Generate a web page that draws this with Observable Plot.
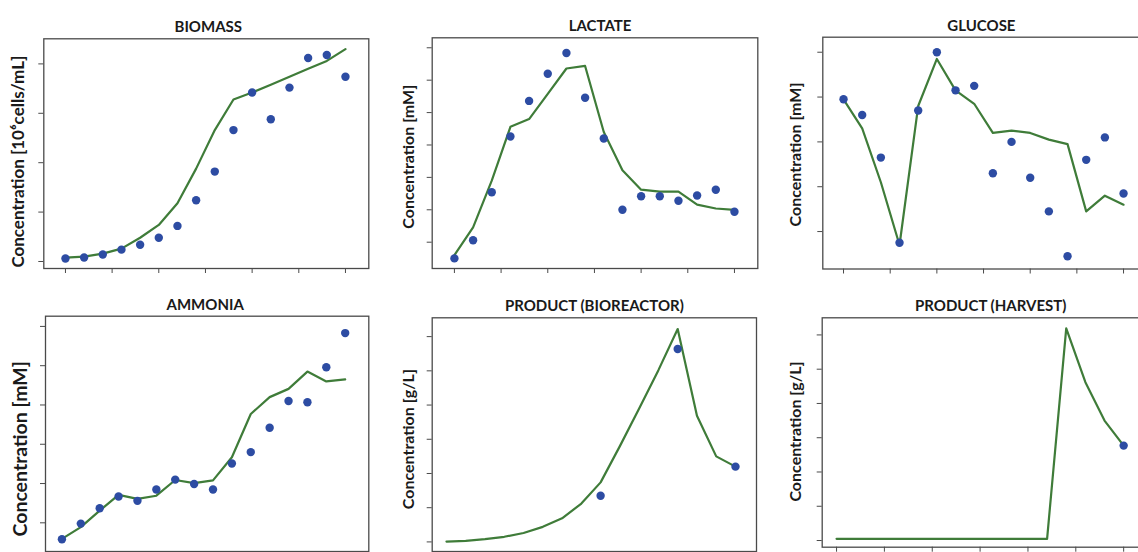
<!DOCTYPE html>
<html>
<head>
<meta charset="utf-8">
<script src="https://cdn.jsdelivr.net/npm/d3@7"></script>
<script src="https://cdn.jsdelivr.net/npm/@observablehq/plot@0.6"></script>
<style>
  body { margin: 0; background: #fff; }
  #fig { position: relative; width: 1138px; height: 552px; overflow: hidden; background: #fff; }
  #fig svg { position: absolute; }
</style>
</head>
<body>
<div id="fig"></div>
<script>
// Culture day of each sample / simulation step
const days = [0, 1, 2, 3, 4, 5, 6, 7, 8, 9, 10, 11, 12, 13, 14, 15];
const dayTicks = [0, 2.5, 5, 7.5, 10, 12.5, 15];

// Biomass [10^6 cells/mL]
const biomassMeasured = [0.3, 0.4, 0.7, 1.2, 1.7, 2.4, 3.6, 6.2, 9.1, 13.3, 17.1, 14.4, 17.6, 20.6, 20.9, 18.7];
const biomassModel    = [0.4, 0.5, 0.8, 1.3, 2.4, 3.7, 5.9, 9.4, 13.3, 16.4, 17.1, 17.9, 18.7, 19.5, 20.3, 21.5];
const biomassTicks = [0, 5, 10, 15, 20];

// Lactate [mM]
const lactateMeasured = [2.5, 5.3, 12.7, 21.3, 26.8, 31.0, 34.2, 27.3, 21.0, 10.0, 12.1, 12.1, 11.4, 12.2, 13.1, 9.7];
const lactateModel    = [3.0, 7.3, 14.5, 22.8, 24.0, 27.9, 31.8, 32.2, 22.0, 16.1, 13.1, 12.8, 12.8, 10.8, 10.2, 10.0];
const lactateTicks = [5, 10, 15, 20, 25, 30, 35];

// Glucose [mM]
const glucoseMeasured = [7.9, 7.2, 5.3, 1.5, 7.4, 10.0, 8.3, 8.5, 4.6, 6.0, 4.4, 2.9, 0.9, 5.2, 6.2, 3.7];
const glucoseModel    = [7.9, 6.6, 4.2, 1.4, 7.6, 9.7, 8.3, 7.7, 6.4, 6.5, 6.4, 6.1, 5.9, 2.9, 3.6, 3.2];
const glucoseTicks = [2, 4, 6, 8, 10];

// Ammonia [mM]
const ammoniaMeasured = [0.58, 0.98, 1.37, 1.67, 1.56, 1.85, 2.10, 1.99, 1.85, 2.51, 2.80, 3.42, 4.10, 4.07, 4.96, 5.83];
const ammoniaModel    = [0.59, 0.89, 1.31, 1.71, 1.61, 1.69, 2.09, 2.01, 2.08, 2.67, 3.77, 4.20, 4.41, 4.85, 4.60, 4.65];
const ammoniaTicks = [1, 2, 3, 4, 5, 6];

// Product in the bioreactor [g/L]
const bioreactorModel = [0.01, 0.03, 0.08, 0.15, 0.26, 0.44, 0.69, 1.12, 1.74, 2.80, 3.90, 5.02, 6.22, 3.69, 2.50, 2.20];
const bioreactorSampleDays = [8, 12, 15];
const bioreactorMeasured = [1.35, 5.64, 2.20];
const bioreactorTicks = [0, 1, 2, 3, 4, 5, 6];

// Product in the harvest [g/L]
const harvestModel = [0.05, 0.05, 0.05, 0.05, 0.05, 0.05, 0.05, 0.05, 0.05, 0.05, 0.05, 0.05, 6.19, 4.62, 3.50, 2.77];
const harvestSampleDays = [15];
const harvestMeasured = [2.77];
const harvestTicks = [0, 1, 2, 3, 4, 5, 6];

const dotColor = "#2d4ca3";
const lineColor = "#3f7c39";
const axisColor = "#4a4a4a";

const panels = [
  { title: "BIOMASS", label: "Concentration [10⁶cells/mL]",
    model: biomassModel, sampleDays: days, measured: biomassMeasured, yTicks: biomassTicks,
    xDomain: [-1.16, 16.25], yDomain: [-0.71, 22.54],
    box: { left: 0, top: 0, width: 380, height: 280 },
    margin: { left: 43.3, top: 38.3, right: 11.7, bottom: 12 },
    titleDx: 2, labelDx: -25, labelDy: 8, labelSize: 17 },
  { title: "LACTATE", label: "Concentration [mM]",
    model: lactateModel, sampleDays: days, measured: lactateMeasured, yTicks: lactateTicks,
    xDomain: [-1.19, 16.25], yDomain: [0.94, 36.54],
    box: { left: 380, top: 0, width: 380, height: 280 },
    margin: { left: 51.7, top: 37.3, right: 2.7, bottom: 12 },
    titleDx: 5, labelDx: -23.7, labelDy: 3.6, labelSize: 16 },
  { title: "GLUCOSE", label: "Concentration [mM]",
    model: glucoseModel, sampleDays: days, measured: glucoseMeasured, yTicks: glucoseTicks,
    xDomain: [-1.11, 16.31], yDomain: [0.33, 10.67],
    box: { left: 760, top: 0, width: 400, height: 280 },
    margin: { left: 62.3, top: 36.7, right: 12.5, bottom: 11.5 },
    titleDx: -4, labelDx: -27.3, labelDy: 1.4, labelSize: 16 },
  { title: "AMMONIA", label: "Concentration [mM]",
    model: ammoniaModel, sampleDays: days, measured: ammoniaMeasured, yTicks: ammoniaTicks,
    xDomain: [-0.87, 16.25], yDomain: [0.27, 6.26],
    box: { left: 0, top: 280, width: 380, height: 290 },
    margin: { left: 45, top: 35.7, right: 11.7, bottom: 19 },
    titleDx: -2, labelDx: -25, labelDy: 15, labelSize: 19.5 },
  { title: "PRODUCT (BIOREACTOR)", label: "Concentration [g/L]",
    model: bioreactorModel, sampleDays: bioreactorSampleDays, measured: bioreactorMeasured, yTicks: bioreactorTicks,
    xDomain: [-0.74, 16.09], yDomain: [-0.28, 6.55],
    box: { left: 380, top: 280, width: 380, height: 290 },
    margin: { left: 51.7, top: 37.3, right: 4, bottom: 19 },
    titleDx: 0, labelDx: -23.7, labelDy: 4.5, labelSize: 16 },
  { title: "PRODUCT (HARVEST)", label: "Concentration [g/L]",
    model: harvestModel, sampleDays: harvestSampleDays, measured: harvestMeasured, yTicks: harvestTicks,
    xDomain: [-0.75, 16.23], yDomain: [-0.195, 6.50],
    box: { left: 760, top: 280, width: 400, height: 290 },
    margin: { left: 61.7, top: 37.3, right: 13.3, bottom: 23.3 },
    titleDx: 6, labelDx: -26.7, labelDy: -1, labelSize: 16 }
];

const fig = document.getElementById("fig");

for (const p of panels) {
  const modelRows = days.map((d, i) => ({ day: d, value: p.model[i] }));
  const sampleRows = p.sampleDays.map((d, i) => ({ day: d, value: p.measured[i] }));

  const chart = Plot.plot({
    width: p.box.width,
    height: p.box.height,
    marginLeft: p.margin.left,
    marginTop: p.margin.top,
    marginRight: p.margin.right,
    marginBottom: p.margin.bottom,
    style: { fontFamily: "Lato, 'Open Sans', sans-serif", background: "transparent", overflow: "visible" },
    x: { domain: p.xDomain },
    y: { domain: p.yDomain },
    marks: [
      Plot.axisX({ ticks: dayTicks, tickSize: 5, tickFormat: () => "", label: null, stroke: axisColor, strokeWidth: 1 }),
      Plot.axisY({ ticks: p.yTicks, tickSize: 5, tickFormat: () => "", label: null, stroke: axisColor, strokeWidth: 1 }),
      Plot.line(modelRows, { x: "day", y: "value", stroke: lineColor, strokeWidth: 2.2, strokeLinejoin: "round" }),
      Plot.dot(sampleRows, { x: "day", y: "value", r: 4.2, fill: dotColor, stroke: "none" }),
      Plot.frame({ stroke: axisColor, strokeWidth: 1.3 }),
      Plot.text([p.title], { text: d => d, frameAnchor: "top", textAnchor: "middle", dx: p.titleDx, dy: -17,
        fontSize: 15, fontWeight: "bold", fill: "#1a1a1a" }),
      Plot.text([p.label], { text: d => d, frameAnchor: "left", textAnchor: "middle", rotate: -90,
        dx: p.labelDx, dy: p.labelDy, fontSize: p.labelSize, fontWeight: "bold", fill: "#1a1a1a" })
    ]
  });
  chart.style.left = p.box.left + "px";
  chart.style.top = p.box.top + "px";
  fig.appendChild(chart);
}
</script>
</body>
</html>
